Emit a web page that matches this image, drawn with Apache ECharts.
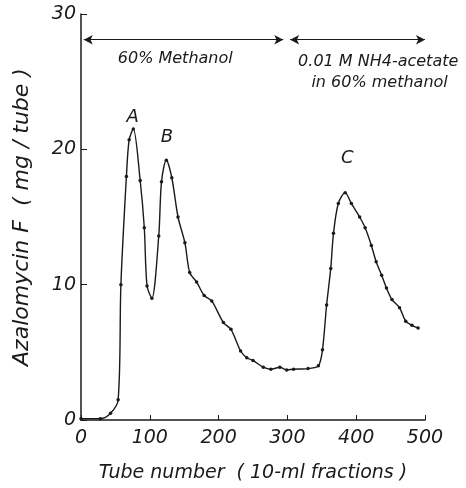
<!DOCTYPE html>
<html>
<head>
<meta charset="utf-8">
<script src="https://cdn.jsdelivr.net/npm/echarts@6/dist/echarts.min.js"></script>
<style>
  html, body { margin: 0; padding: 0; background: #fff; }
  #main { width: 466px; height: 488px; }
</style>
</head>
<body>
<div id="main"></div>
<script>
// tube number vs azalomycin F
var tubes = [0, 28, 43, 54, 58, 66, 70, 76, 86, 92, 96, 103, 113, 117, 124, 132, 141, 151, 158, 168,
  179, 190, 207, 218, 232, 241, 250, 265, 276, 289, 299, 309, 330, 345, 351, 357, 363, 367, 374,
  384, 393, 405, 413, 422, 429, 437, 444, 452, 463, 472, 481, 490];
var amounts = [0.1, 0.1, 0.5, 1.5, 10, 18, 20.7, 21.5, 17.7, 14.2, 9.9, 9.0, 13.6, 17.6, 19.2, 17.9, 15.0, 13.1, 10.9, 10.2,
  9.2, 8.8, 7.2, 6.7, 5.1, 4.6, 4.4, 3.9, 3.75, 3.9, 3.7, 3.75, 3.8, 4.0, 5.2, 8.5, 11.2, 13.8, 16.0,
  16.8, 16.0, 15.0, 14.2, 12.9, 11.7, 10.7, 9.75, 8.9, 8.3, 7.3, 7.0, 6.8];

var xTicks = [0, 100, 200, 300, 400, 500];
var yTicks = [0, 10, 20, 30];

var peakLabels = [['A', 75, 22.4], ['B', 125, 20.9], ['C', 387, 19.3]];
var solventTexts = [['60% Methanol', 137, 26.7], ['0.01 M NH4-acetate', 432, 26.5], ['in 60% methanol', 434, 24.9]];
var solventArrows = [[4, 294, 28.1], [304, 500, 28.1]];

var ink = '#1a1a1a';
var font = 'DejaVu Sans';

var chart = echarts.init(document.getElementById('main'));

var pts = tubes.map(function (t, i) { return [t, amounts[i]]; });

chart.setOption({
  animation: false,
  backgroundColor: '#fff',
  grid: { left: 81, right: 41, top: 14, bottom: 65 },
  xAxis: {
    type: 'value', min: 0, max: 500, interval: 100,
    name: 'Tube number  ( 10-ml fractions )',
    nameLocation: 'middle', nameGap: 44,
    nameTextStyle: { color: ink, fontFamily: font, fontStyle: 'italic', fontSize: 19 },
    axisLine: { lineStyle: { color: ink, width: 1.5 } },
    axisTick: { inside: true, length: 5, lineStyle: { color: ink } },
    axisLabel: { color: ink, fontFamily: font, fontStyle: 'italic', fontSize: 19, margin: 9,
      formatter: function (v) { return xTicks.indexOf(v) >= 0 ? String(v) : ''; } },
    splitLine: { show: false }
  },
  yAxis: {
    type: 'value', min: 0, max: 30, interval: 10,
    name: 'Azalomycin F  ( mg / tube )',
    nameLocation: 'middle', nameGap: 48, nameRotate: 90,
    nameTextStyle: { color: ink, fontFamily: font, fontStyle: 'italic', fontSize: 22 },
    axisLine: { show: true, lineStyle: { color: ink, width: 1.5 } },
    axisTick: { show: true, inside: true, length: 6, lineStyle: { color: ink } },
    axisLabel: { color: ink, fontFamily: font, fontStyle: 'italic', fontSize: 19, margin: 5,
      formatter: function (v) { return yTicks.indexOf(v) >= 0 ? String(v) : ''; } },
    splitLine: { show: false }
  },
  series: [{
    type: 'line',
    data: pts,
    smooth: 0.3,
    clip: false,
    symbol: 'circle',
    symbolSize: 3.5,
    itemStyle: { color: ink },
    lineStyle: { color: ink, width: 1.4 },
    markLine: {
      silent: true,
      symbol: ['arrow', 'arrow'],
      symbolSize: [7, 9],
      label: { show: false },
      lineStyle: { color: ink, type: 'solid', width: 1 },
      data: solventArrows.map(function (a) {
        return [{ coord: [a[0], a[2]] }, { coord: [a[1], a[2]] }];
      })
    },
    markPoint: {
      silent: true,
      symbol: 'circle',
      symbolSize: 0,
      data: peakLabels.map(function (p) {
        return { coord: [p[1], p[2]], value: p[0],
          label: { show: true, formatter: p[0], color: ink, fontFamily: font, fontStyle: 'italic', fontSize: 18 } };
      }).concat(solventTexts.map(function (s) {
        return { coord: [s[1], s[2]], value: s[0],
          label: { show: true, formatter: s[0], color: ink, fontFamily: font, fontStyle: 'italic', fontSize: 16 } };
      }))
    }
  }]
});
</script>
</body>
</html>
